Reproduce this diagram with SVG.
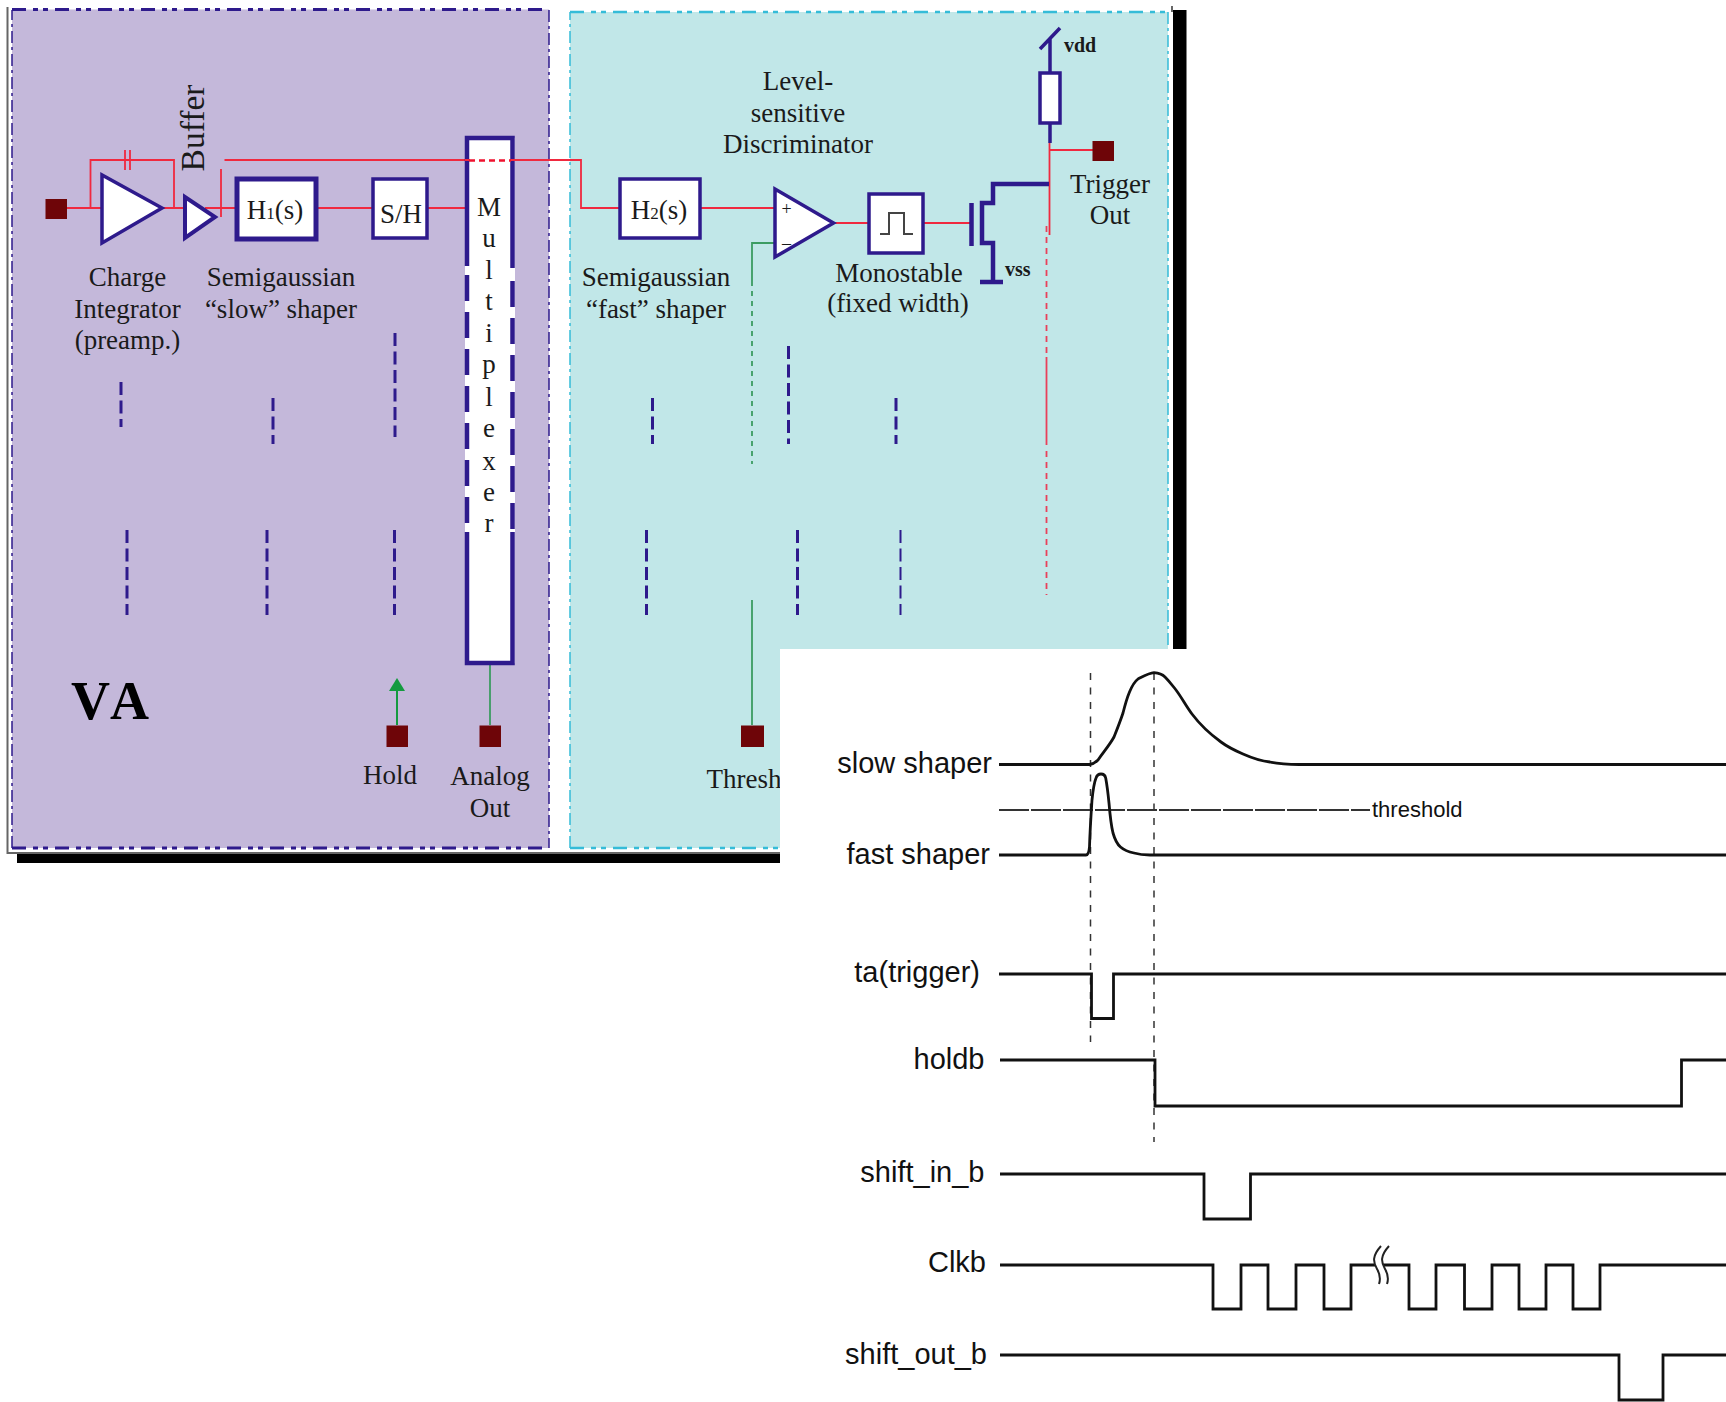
<svg xmlns="http://www.w3.org/2000/svg" width="1726" height="1402" viewBox="0 0 1726 1402">
<style>
text{font-family:"Liberation Serif","Times New Roman",serif;font-size:27px;fill:#1a1a1a;text-anchor:middle}
.sb{font-family:"Liberation Sans",Arial,sans-serif;font-size:29px;text-anchor:end;fill:#111}
.small{font-size:20px;font-weight:bold;text-anchor:start}
.blk{fill:#fff;stroke:#2e1a8c;stroke-width:3.5}
.r{fill:none;stroke:#f0293f;stroke-width:1.8}
.g{fill:none;stroke:#3c9c62;stroke-width:1.8}
.n{fill:none;stroke:#2e1a8c;stroke-width:4.5}
.d1{fill:none;stroke:#2e1a8c;stroke-width:3;stroke-dasharray:13 5.5}
.sq{fill:#6e0508}
.sig{fill:none;stroke:#111;stroke-width:2.8}
.vd{fill:none;stroke:#333;stroke-width:1.5;stroke-dasharray:7 7.5}
</style>
<rect width="1726" height="1402" fill="#fff"/>
<g id="frame">
<rect x="17" y="853" width="770" height="10" fill="#000"/>
<rect x="1173" y="10" width="13.500" height="650" fill="#000"/>
<path d="M7.500 7V853H780" fill="none" stroke="#666" stroke-width="2"/>
<path d="M1172 6V12" fill="none" stroke="#666" stroke-width="2"/>
</g>
<g id="va-panel">
<rect x="12" y="9.500" width="537" height="838.500" fill="#c4b8da"/>
<path d="M12 848V10" fill="none" stroke="#2e1a8c" stroke-width="1.500" stroke-dasharray="12 4 3 4"/>
<path d="M549 10V848" fill="none" stroke="#2e1a8c" stroke-width="1.500" stroke-dasharray="12 4 3 4"/>
<path d="M12 9.500H549M12 848H549" fill="none" stroke="#2e1a8c" stroke-width="3" stroke-dasharray="14 7 5 5 5 7"/>
<text x="110" y="719" style="font-size:54px;font-weight:bold;fill:#000;font-kerning:none">VA</text>
</g>
<g id="ta-panel">
<rect x="570" y="12" width="598" height="836" fill="#c1e7e8"/>
<path d="M570 848V12M1168 12V848" fill="none" stroke="#35bcd8" stroke-width="1.500" stroke-dasharray="12 4 3 4"/>
<path d="M570 12H1168M570 848H1168" fill="none" stroke="#35bcd8" stroke-width="2.500" stroke-dasharray="14 7 5 5 5 7"/>
</g>
<g id="connectors">
<path class="r" d="M67 208H102M90.500 208V160H174V208M162 208H185M205 208H238M221 169V217M224.500 160H466M513 160H581V208H620M316 208H373M427 208H467M700 208H775M833 223H869M923 223H970M1049.500 143V235M1050 150H1093"/>
<path d="M125 150V170M130 150V170" fill="none" stroke="#f0293f" stroke-width="1.800"/>
<path d="M1046.500 226V357M1046.500 451V595" fill="none" stroke="#e8405a" stroke-width="1.800" stroke-dasharray="6 5"/>
<path d="M1046.500 357V445" fill="none" stroke="#e8405a" stroke-width="1.800"/>
<path class="g" d="M775 243H752V281M752 600V725M490 663V725"/>
<path class="g" d="M752 281V464" stroke-dasharray="5 5"/>
<path d="M397 725V688" fill="none" stroke="#149a3f" stroke-width="2"/>
<path d="M397 678L405 691H389Z" fill="#149a3f"/>
<path class="d1" d="M121 382V427M273 398V444M395 333V437M652.500 398V444M788.500 346V444M896 398V444M127 530V615M267 530V615M394.500 530V615M646.500 530V615M797.500 530V615"/>
<path d="M900.500 530V615" fill="none" stroke="#2e1a8c" stroke-width="2" stroke-dasharray="13 5.500"/>
</g>
<g id="input-pad"><rect class="sq" x="45.500" y="199" width="21.500" height="20"/></g>
<g id="charge-integrator">
<path class="blk" d="M102 175V243L162 208Z"/>
<text x="127.500" y="286">Charge</text><text x="127.500" y="318">Integrator</text><text x="127.500" y="349">(preamp.)</text>
</g>
<g id="buffer">
<path class="blk" style="stroke-width:4" d="M185 197V238L215 217Z"/>
<text transform="translate(203.500 128) rotate(-90)" style="font-size:33.500px">Buffer</text>
</g>
<g id="slow-shaper">
<rect class="blk" style="stroke-width:5" x="237" y="179" width="79" height="60"/>
<text x="275" y="219">H<tspan style="font-size:17px">1</tspan>(s)</text>
<text x="281" y="286">Semigaussian</text><text x="281" y="318">“slow” shaper</text>
</g>
<g id="sample-hold">
<rect class="blk" x="373" y="179" width="54" height="59"/>
<text x="401" y="223">S/H</text>
</g>
<g id="multiplexer">
<rect x="465" y="138" width="50" height="525" fill="#fff"/>
<path class="n" d="M467 266V138H512.500V268M512.500 532V663H467V532"/>
<path class="n" d="M467 275V532" stroke-dasharray="26 11"/>
<path class="n" d="M512.500 281V532" stroke-dasharray="26 11"/>
<path d="M465 160H470M510 160H516" class="r"/>
<path d="M469 160.500H511" fill="none" stroke="#f0132f" stroke-width="2.500" stroke-dasharray="6 4"/>
<text x="489" y="216">M</text><text x="489" y="247">u</text><text x="489" y="279">l</text><text x="489" y="310">t</text><text x="489" y="342">i</text><text x="489" y="373">p</text><text x="489" y="406">l</text><text x="489" y="437">e</text><text x="489" y="470">x</text><text x="489" y="501">e</text><text x="489" y="532">r</text>
</g>
<g id="hold"><rect class="sq" x="386.500" y="725.500" width="21.500" height="21.500"/><text x="390" y="784">Hold</text></g>
<g id="analog-out"><rect class="sq" x="479.500" y="725.500" width="21.500" height="21.500"/><text x="490" y="785">Analog</text><text x="490" y="817">Out</text></g>
<g id="threshold"><rect class="sq" x="741" y="725.500" width="23" height="21.500"/><text x="706.500" y="788" style="text-anchor:start">Thresh</text></g>
<g id="fast-shaper">
<rect class="blk" x="620" y="179" width="80" height="59"/>
<text x="659" y="219">H<tspan style="font-size:17px">2</tspan>(s)</text>
<text x="656" y="286">Semigaussian</text><text x="656" y="318">“fast” shaper</text>
</g>
<g id="discriminator">
<path class="blk" d="M775 189V257L833.500 223Z"/>
<text x="786.500" y="215" style="font-size:18px">+</text><text x="786.500" y="249" style="font-size:18px">–</text>
<text x="798" y="90">Level-</text><text x="798" y="121.500">sensitive</text><text x="798" y="153">Discriminator</text>
</g>
<g id="monostable">
<rect class="blk" x="869" y="194" width="54" height="59"/>
<path d="M880 234H889V213H904V234H913" fill="none" stroke="#444" stroke-width="2"/>
<text x="899" y="282">Monostable</text><text x="898" y="312">(fixed width)</text>
</g>
<g id="transistor">
<path d="M971.500 203V246" class="n"/>
<path class="n" d="M1049 184H993V203H982V243H993V281M980 282H1003"/>
<text class="small" x="1005" y="276">vss</text>
</g>
<g id="pullup">
<path class="n" style="stroke-width:3.500" d="M1040 49L1060 28M1050 39V73M1050 123V143"/>
<rect class="blk" x="1040" y="73" width="20" height="50"/>
<text class="small" x="1064" y="51.500">vdd</text>
</g>
<g id="trigger-out"><rect class="sq" x="1092.500" y="141" width="21.500" height="20"/><text x="1110" y="193">Trigger</text><text x="1110" y="224">Out</text></g>
<rect id="timing-panel" x="780" y="649" width="946" height="753" fill="#fff"/>
<g id="timing-connectors">
<path class="vd" d="M1090.500 673V1042M1154 673V1142"/>
<path d="M999 810H1370" fill="none" stroke="#333" stroke-width="1.800" stroke-dasharray="30 2"/>
</g>
<g id="sig-slow"><path class="sig" d="M999 764.500H1089.500C1093 764 1096 762 1098 760C1104 751 1109 746 1114 737C1118 727 1120 722 1123 713C1125 705 1127 698 1129.500 692C1132 686 1134 682 1138 679C1144 676 1149 673 1154 672.700C1158 673 1162 674 1165 677C1170 682 1172 685 1176 690C1182 698 1186 706 1192 714C1201 726 1210 734 1221 742C1229 748 1236 751 1243 754C1252 758 1261 761 1270 762C1280 764 1289 764.500 1299 764.500H1726"/><text class="sb" x="992" y="773">slow shaper</text></g>
<g id="sig-fast"><path class="sig" d="M999 855H1086C1088 855 1089 852 1089.500 847C1090 830 1091 815 1092 800C1093 790 1094 783 1096 778C1097 775 1099 774 1101 774C1103 774 1105 775 1105.700 778C1107 785 1108 793 1109 803C1110 815 1111 825 1113 833C1115 840 1117 844 1120.500 847C1125 851 1129 852 1134 853C1139 854.500 1144 855 1150 855H1726"/><text class="sb" x="990" y="864">fast shaper</text></g>
<g id="threshold-label"><text class="sb" style="font-size:22px;text-anchor:start" x="1372" y="817">threshold</text></g>
<g id="sig-ta"><path class="sig" d="M999 974H1091.500V1018.500H1113.500V974H1726"/><text class="sb" x="980" y="982">ta(trigger)</text></g>
<g id="sig-holdb"><path class="sig" d="M1000 1060H1155V1106H1681.500V1060H1726"/><text class="sb" x="984.500" y="1069">holdb</text></g>
<g id="sig-shift-in"><path class="sig" d="M1000 1174H1204V1219H1250.500V1174H1726"/><text class="sb" x="984.500" y="1182">shift_in_b</text></g>
<g id="sig-clkb">
<path class="sig" d="M1000 1265H1213V1309H1241V1265H1268V1309H1296V1265H1324V1309H1351V1265H1409V1309H1436V1265H1464.500V1309H1492V1265H1519V1309H1546V1265H1573V1309H1600V1265H1726"/>
<path d="M1381 1246C1372 1256 1373 1262 1377 1269C1380 1274 1381 1278 1379 1284H1387C1389 1278 1388 1274 1385 1269C1381 1262 1380 1256 1389 1246Z" fill="#fff"/>
<path d="M1381 1246C1372 1256 1373 1262 1377 1269C1380 1274 1381 1278 1379 1284M1389 1246C1380 1256 1381 1262 1385 1269C1388 1274 1389 1278 1387 1284" fill="none" stroke="#222" stroke-width="2"/>
<text class="sb" x="986" y="1272">Clkb</text>
</g>
<g id="sig-shift-out"><path class="sig" d="M1000 1355H1619V1400H1663V1355H1726"/><text class="sb" x="987" y="1364">shift_out_b</text></g>
</svg>
